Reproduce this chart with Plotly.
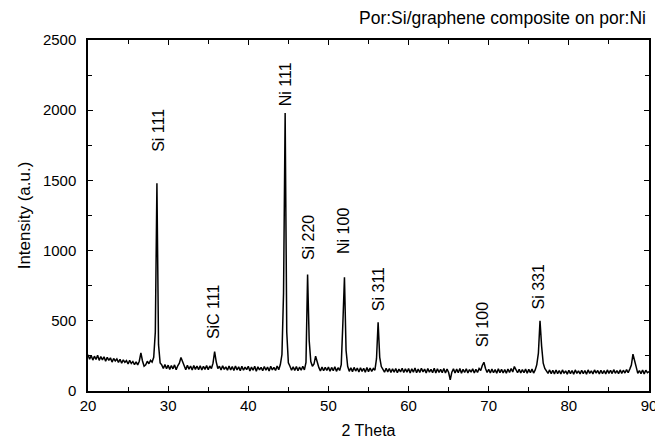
import plotly.graph_objects as go

# XRD scan, 2-theta from 20 to 90 deg in 0.2 deg steps
two_theta_start = 20.0
two_theta_step = 0.2
intensity = [
    258, 226, 252, 220, 248, 224, 254, 218, 246, 222,   # 20
    244, 212, 240, 218, 236, 206, 232, 214, 228, 204,   # 22
    226, 198, 222, 204, 216, 192, 218, 196, 210, 188,   # 24
    208, 186, 212, 272, 214, 176, 186, 212, 194, 218,   # 26
    206, 240, 420, 1480, 330, 200, 186, 160, 188, 158,  # 28
    184, 154, 182, 158, 186, 152, 180, 198, 238, 204,   # 30
    180, 152, 184, 156, 178, 150, 182, 154, 178, 152,   # 32
    180, 150, 176, 154, 182, 152, 178, 160, 198, 280,   # 34
    208, 160, 176, 150, 180, 154, 172, 148, 178, 150,   # 36
    174, 146, 178, 150, 172, 144, 176, 148, 170, 152,   # 38
    176, 142, 170, 148, 176, 140, 172, 150, 168, 144,   # 40
    174, 148, 170, 142, 176, 150, 168, 146, 178, 152,   # 42
    188, 260, 700, 1980, 420, 200, 176, 148, 172, 146,  # 44
    174, 144, 170, 148, 176, 150, 204, 830, 360, 210,   # 46
    176, 192, 248, 200, 168, 142, 170, 144, 168, 146,   # 48
    170, 140, 168, 144, 172, 140, 166, 146, 188, 480,   # 50
    810, 290, 176, 140, 166, 138, 168, 142, 164, 136,   # 52
    166, 140, 162, 134, 168, 138, 164, 140, 160, 148,   # 54
    230, 490, 240, 174, 158, 134, 162, 136, 160, 132,   # 56
    158, 134, 160, 130, 156, 136, 162, 132, 158, 134,   # 58
    160, 128, 158, 134, 164, 130, 156, 132, 162, 136,   # 60
    156, 128, 160, 134, 154, 130, 162, 128, 158, 132,   # 62
    154, 130, 160, 128, 156, 132, 80, 134, 158, 128,    # 64
    156, 130, 160, 126, 154, 132, 158, 128, 152, 134,   # 66
    158, 128, 154, 132, 160, 146, 182, 205, 160, 132,   # 68
    154, 128, 156, 130, 152, 126, 158, 130, 154, 128,   # 70
    152, 126, 156, 132, 160, 136, 174, 150, 130, 154,   # 72
    128, 152, 130, 156, 126, 154, 130, 156, 128, 150,   # 74
    188, 270, 500, 320, 198, 160, 146, 126, 150, 124,   # 76
    148, 122, 150, 124, 146, 122, 150, 126, 144, 120,   # 78
    148, 124, 146, 120, 150, 126, 144, 122, 148, 124,   # 80
    146, 120, 150, 126, 144, 122, 150, 128, 146, 122,   # 82
    148, 124, 146, 122, 150, 126, 148, 124, 152, 126,   # 84
    146, 124, 150, 126, 148, 128, 152, 130, 156, 185,   # 86
    262, 225, 172, 126, 146, 124, 150, 122, 148, 130,   # 88
    138,                                                # 90
]
two_theta = [round(two_theta_start + two_theta_step * i, 2) for i in range(len(intensity))]

# peak labels and where they sit
peak_names = ["Si 111", "SiC 111", "Ni 111", "Si 220", "Ni 100", "Si 311", "Si 100", "Si 331"]
peak_label_x = [28.7, 35.6, 44.6, 47.45, 51.8, 56.2, 69.2, 76.2]
peak_label_y = [1858, 562, 2186, 1096, 1139, 726, 470, 740]

font = "Liberation Sans, Arial, sans-serif"

fig = go.Figure()
fig.add_trace(go.Scatter(x=two_theta, y=intensity, mode="lines",
                         line=dict(color="black", width=1.5), showlegend=False))

for name, px_, py_ in zip(peak_names, peak_label_x, peak_label_y):
    fig.add_annotation(x=px_, y=py_, text=name, textangle=-90, showarrow=False,
                       font=dict(size=16, color="black", family=font))

fig.add_annotation(xref="paper", yref="paper", x=0.998, y=1.063, xanchor="right", yanchor="middle",
                   text="Por:Si/graphene composite on por:Ni", showarrow=False,
                   font=dict(size=17.5, color="black", family=font))

axis_common = dict(showgrid=False, zeroline=False, showline=True, linecolor="black", linewidth=1.5,
                   mirror="ticks", ticks="inside", ticklen=5, tickwidth=1, tickcolor="black",
                   automargin=False, ticklabeloverflow="allow",
                   tickfont=dict(size=15, color="black", family=font))

fig.update_xaxes(range=[20, 90], dtick=10, tick0=20,
                 minor=dict(dtick=5, ticks="inside", ticklen=4, tickcolor="black"),
                 title=dict(text="2 Theta", font=dict(size=16, color="black", family=font), standoff=12),
                 **axis_common)
fig.update_yaxes(range=[0, 2500], dtick=500, tick0=0, ticklabelstandoff=7,
                 minor=dict(dtick=250, ticks="inside", ticklen=4, tickcolor="black"),
                 title=dict(text="Intensity (a.u.)", font=dict(size=17, color="black", family=font), standoff=8),
                 **axis_common)

fig.update_layout(width=655, height=439, margin=dict(l=88, r=6, t=40, b=48),
                  plot_bgcolor="white", paper_bgcolor="white",
                  font=dict(family=font, color="black"))

# drop the default page margin so the figure fills the window exactly
fig.write_html("out.html", config={"displayModeBar": False},
               post_script="document.body.style.margin='0';document.body.style.overflow='hidden';")
